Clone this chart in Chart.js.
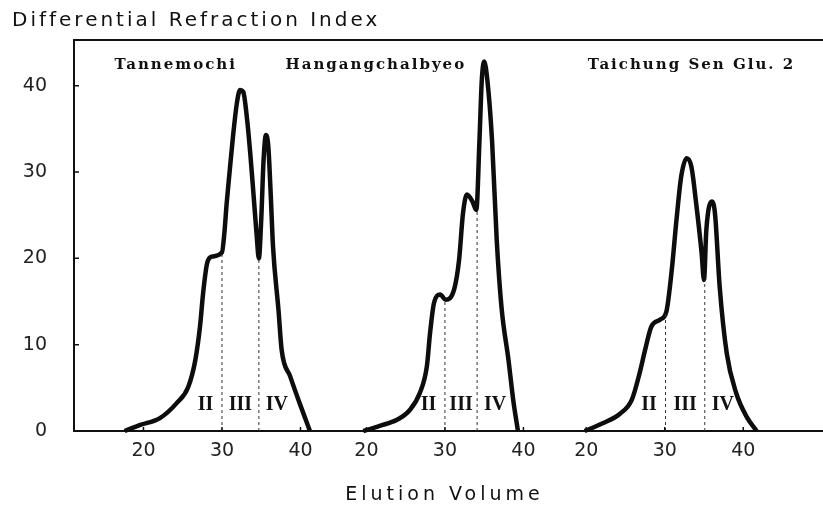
<!DOCTYPE html>
<html>
<head>
<meta charset="utf-8">
<script src="https://cdn.jsdelivr.net/npm/chart.js@4.4.1/dist/chart.umd.min.js"></script>
<style>
  html, body { margin: 0; padding: 0; background: #fff; }
  #wrap { width: 823px; height: 506px; }
</style>
</head>
<body>
<div id="wrap"><canvas id="myChart" width="823" height="506"></canvas></div>
<script>
// one chromatogram per sample
const samples = ['Tannemochi', 'Hangangchalbyeo', 'Taichung Sen Glu. 2'];

// elution volume and differential refraction index
const volTanne = [17.6, 19.6, 22.1, 24.2, 25.7, 26.6, 27.2, 27.6, 28.1, 28.7, 30.0, 30.3, 30.6, 31.0, 31.4, 31.9, 32.3, 32.7, 33.2, 33.6, 34.0, 34.4, 34.7, 35.0, 35.3, 35.6, 35.9, 36.2, 36.5, 37.2, 37.6, 38.7, 39.9, 41.2];
const riTanne  = [0, 0.7, 1.5, 3.2, 5.1, 8.2, 12.1, 16.0, 19.4, 20.2, 20.7, 22.9, 26.4, 30.3, 34.1, 38.0, 39.5, 39.3, 36.1, 32.2, 27.6, 22.9, 20.0, 24.5, 31.4, 34.3, 33.0, 27.6, 21.4, 14.0, 9.4, 6.3, 3.2, 0];

const volHang = [19.6, 21.7, 23.9, 25.5, 26.8, 27.7, 28.1, 28.6, 29.4, 30.1, 31.2, 31.8, 32.3, 32.8, 33.5, 34.0, 34.4, 34.7, 35.0, 35.4, 36.0, 36.6, 37.2, 38.1, 38.7, 39.3];
const riHang  = [0, 0.6, 1.3, 2.4, 4.4, 7.5, 11.3, 14.8, 15.8, 15.2, 16.5, 19.8, 25.2, 27.4, 26.6, 25.6, 33.7, 40.7, 42.8, 40.7, 33.7, 22.1, 14.4, 8.2, 3.6, 0];

const volTai = [19.8, 22.1, 24.3, 25.8, 26.8, 27.5, 28.3, 29.4, 30.2, 30.9, 31.5, 32.1, 32.8, 33.4, 34.0, 34.7, 35.0, 35.3, 36.0, 36.4, 37.0, 37.9, 39.1, 40.4, 41.7];
const riTai  = [0, 0.9, 2.0, 3.6, 6.7, 9.4, 12.1, 12.9, 13.8, 18.7, 24.5, 29.5, 31.6, 30.6, 26.4, 20.6, 17.5, 23.3, 26.6, 25.2, 16.7, 9.0, 4.4, 1.7, 0];

// fraction cut points (dashed lines) and curve height there
const cutVolTanne = [30.0, 34.7];
const cutRiTanne  = [20.7, 20.0];
const cutVolHang  = [30.0, 34.1];
const cutRiHang   = [15.3, 25.6];
const cutVolTai   = [30.1, 35.1];
const cutRiTai    = [13.8, 17.5];

const fractions = ['II', 'III', 'IV'];
const xTickValues = [20, 30, 40];
const yTickValues = [0, 10, 20, 30, 40];

// layout: the three panels share one x axis, shifted along it
const panelOffset = [0, 28.4, 56.4];
const titleAnchor = [24.1, 21.2, 33.4];

const vols = [volTanne, volHang, volTai];
const ris = [riTanne, riHang, riTai];
const cutVols = [cutVolTanne, cutVolHang, cutVolTai];
const cutRis = [cutRiTanne, cutRiHang, cutRiTai];

const datasets = [];
vols.forEach((vol, p) => {
    cutVols[p].forEach((c, j) => {
        datasets.push({
            data: [{x: c + panelOffset[p], y: 0}, {x: c + panelOffset[p], y: cutRis[p][j]}],
            borderColor: '#333',
            borderWidth: 1,
            borderDash: [3, 3],
            pointRadius: 0
        });
    });
    datasets.push({
        label: samples[p],
        data: vol.map((v, i) => ({x: v + panelOffset[p], y: ris[p][i]})),
        borderColor: '#0d0d0d',
        borderWidth: 4.5,
        cubicInterpolationMode: 'monotone',
        pointRadius: 0,
        clip: false
    });
});

const decor = {
    id: 'decor',
    afterDraw(chart) {
        const {ctx, chartArea: a, scales: {x, y}} = chart;
        ctx.save();
        ctx.strokeStyle = '#111';
        ctx.lineWidth = 2;
        ctx.beginPath();
        ctx.moveTo(a.left - 1, a.top);
        ctx.lineTo(a.right, a.top);
        ctx.stroke();

        // little inside tick marks
        ctx.lineWidth = 1.5;
        ctx.beginPath();
        yTickValues.slice(1).forEach(v => {
            const py = y.getPixelForValue(v);
            ctx.moveTo(a.left, py);
            ctx.lineTo(a.left + 5, py);
        });
        panelOffset.forEach(off => xTickValues.forEach(v => {
            const px = x.getPixelForValue(v + off);
            ctx.moveTo(px, a.bottom);
            ctx.lineTo(px, a.bottom - 4);
        }));
        ctx.stroke();

        ctx.fillStyle = '#111';
        ctx.textBaseline = 'middle';
        ctx.font = '20px "DejaVu Sans"';
        ctx.letterSpacing = '3px';
        ctx.textAlign = 'left';
        ctx.fillText('Differential Refraction Index', 12, 21);

        ctx.font = '19px "DejaVu Sans"';
        ctx.letterSpacing = '4px';
        ctx.textAlign = 'center';
        ctx.fillText('Elution Volume', (a.left + a.right) / 2 - 4, 495);

        ctx.font = 'bold 15px "DejaVu Serif"';
        ctx.letterSpacing = '2px';
        samples.forEach((s, i) => {
            ctx.fillText(s, x.getPixelForValue(titleAnchor[i] + panelOffset[i]), a.top + 25);
        });

        ctx.font = 'bold 20px "Liberation Serif"';
        ctx.letterSpacing = '0px';
        cutVols.forEach((c, p) => {
            const spots = [c[0] - 2.1, (c[0] + c[1]) / 2, c[1] + 2.3];
            spots.forEach((v, k) => {
                ctx.fillText(fractions[k], x.getPixelForValue(v + panelOffset[p]), y.getPixelForValue(3));
            });
        });
        ctx.restore();
    }
};

const ctx = document.getElementById('myChart');

new Chart(ctx, {
    type: 'line',
    data: { datasets: datasets },
    options: {
        responsive: false,
        animation: false,
        layout: { padding: { top: 40, left: 0, right: 0, bottom: 0 } },
        plugins: {
            legend: { display: false },
            tooltip: { enabled: false }
        },
        scales: {
            x: {
                type: 'linear',
                min: 11.15,
                max: 106.56,
                grid: { display: false, drawTicks: false },
                border: { display: true, color: '#111', width: 2 },
                afterFit(scale) { scale.height = 75; },
                afterBuildTicks(scale) {
                    scale.ticks = [];
                    panelOffset.forEach(off => xTickValues.forEach(v => scale.ticks.push({value: v + off})));
                },
                ticks: {
                    padding: 9,
                    color: '#222',
                    font: { family: 'DejaVu Sans', size: 19 },
                    maxRotation: 0,
                    autoSkip: false,
                    callback: function(value, index) {
                        return xTickValues[index % xTickValues.length];
                    }
                }
            },
            y: {
                min: 0,
                max: 45.3,
                grid: { display: false, drawTicks: false },
                border: { display: true, color: '#111', width: 2 },
                afterFit(scale) { scale.width = 74; },
                afterBuildTicks(scale) {
                    scale.ticks = yTickValues.map(v => ({value: v}));
                },
                ticks: {
                    padding: 27,
                    color: '#222',
                    font: { family: 'DejaVu Sans', size: 19 }
                }
            }
        }
    },
    plugins: [decor]
});
</script>
</body>
</html>
